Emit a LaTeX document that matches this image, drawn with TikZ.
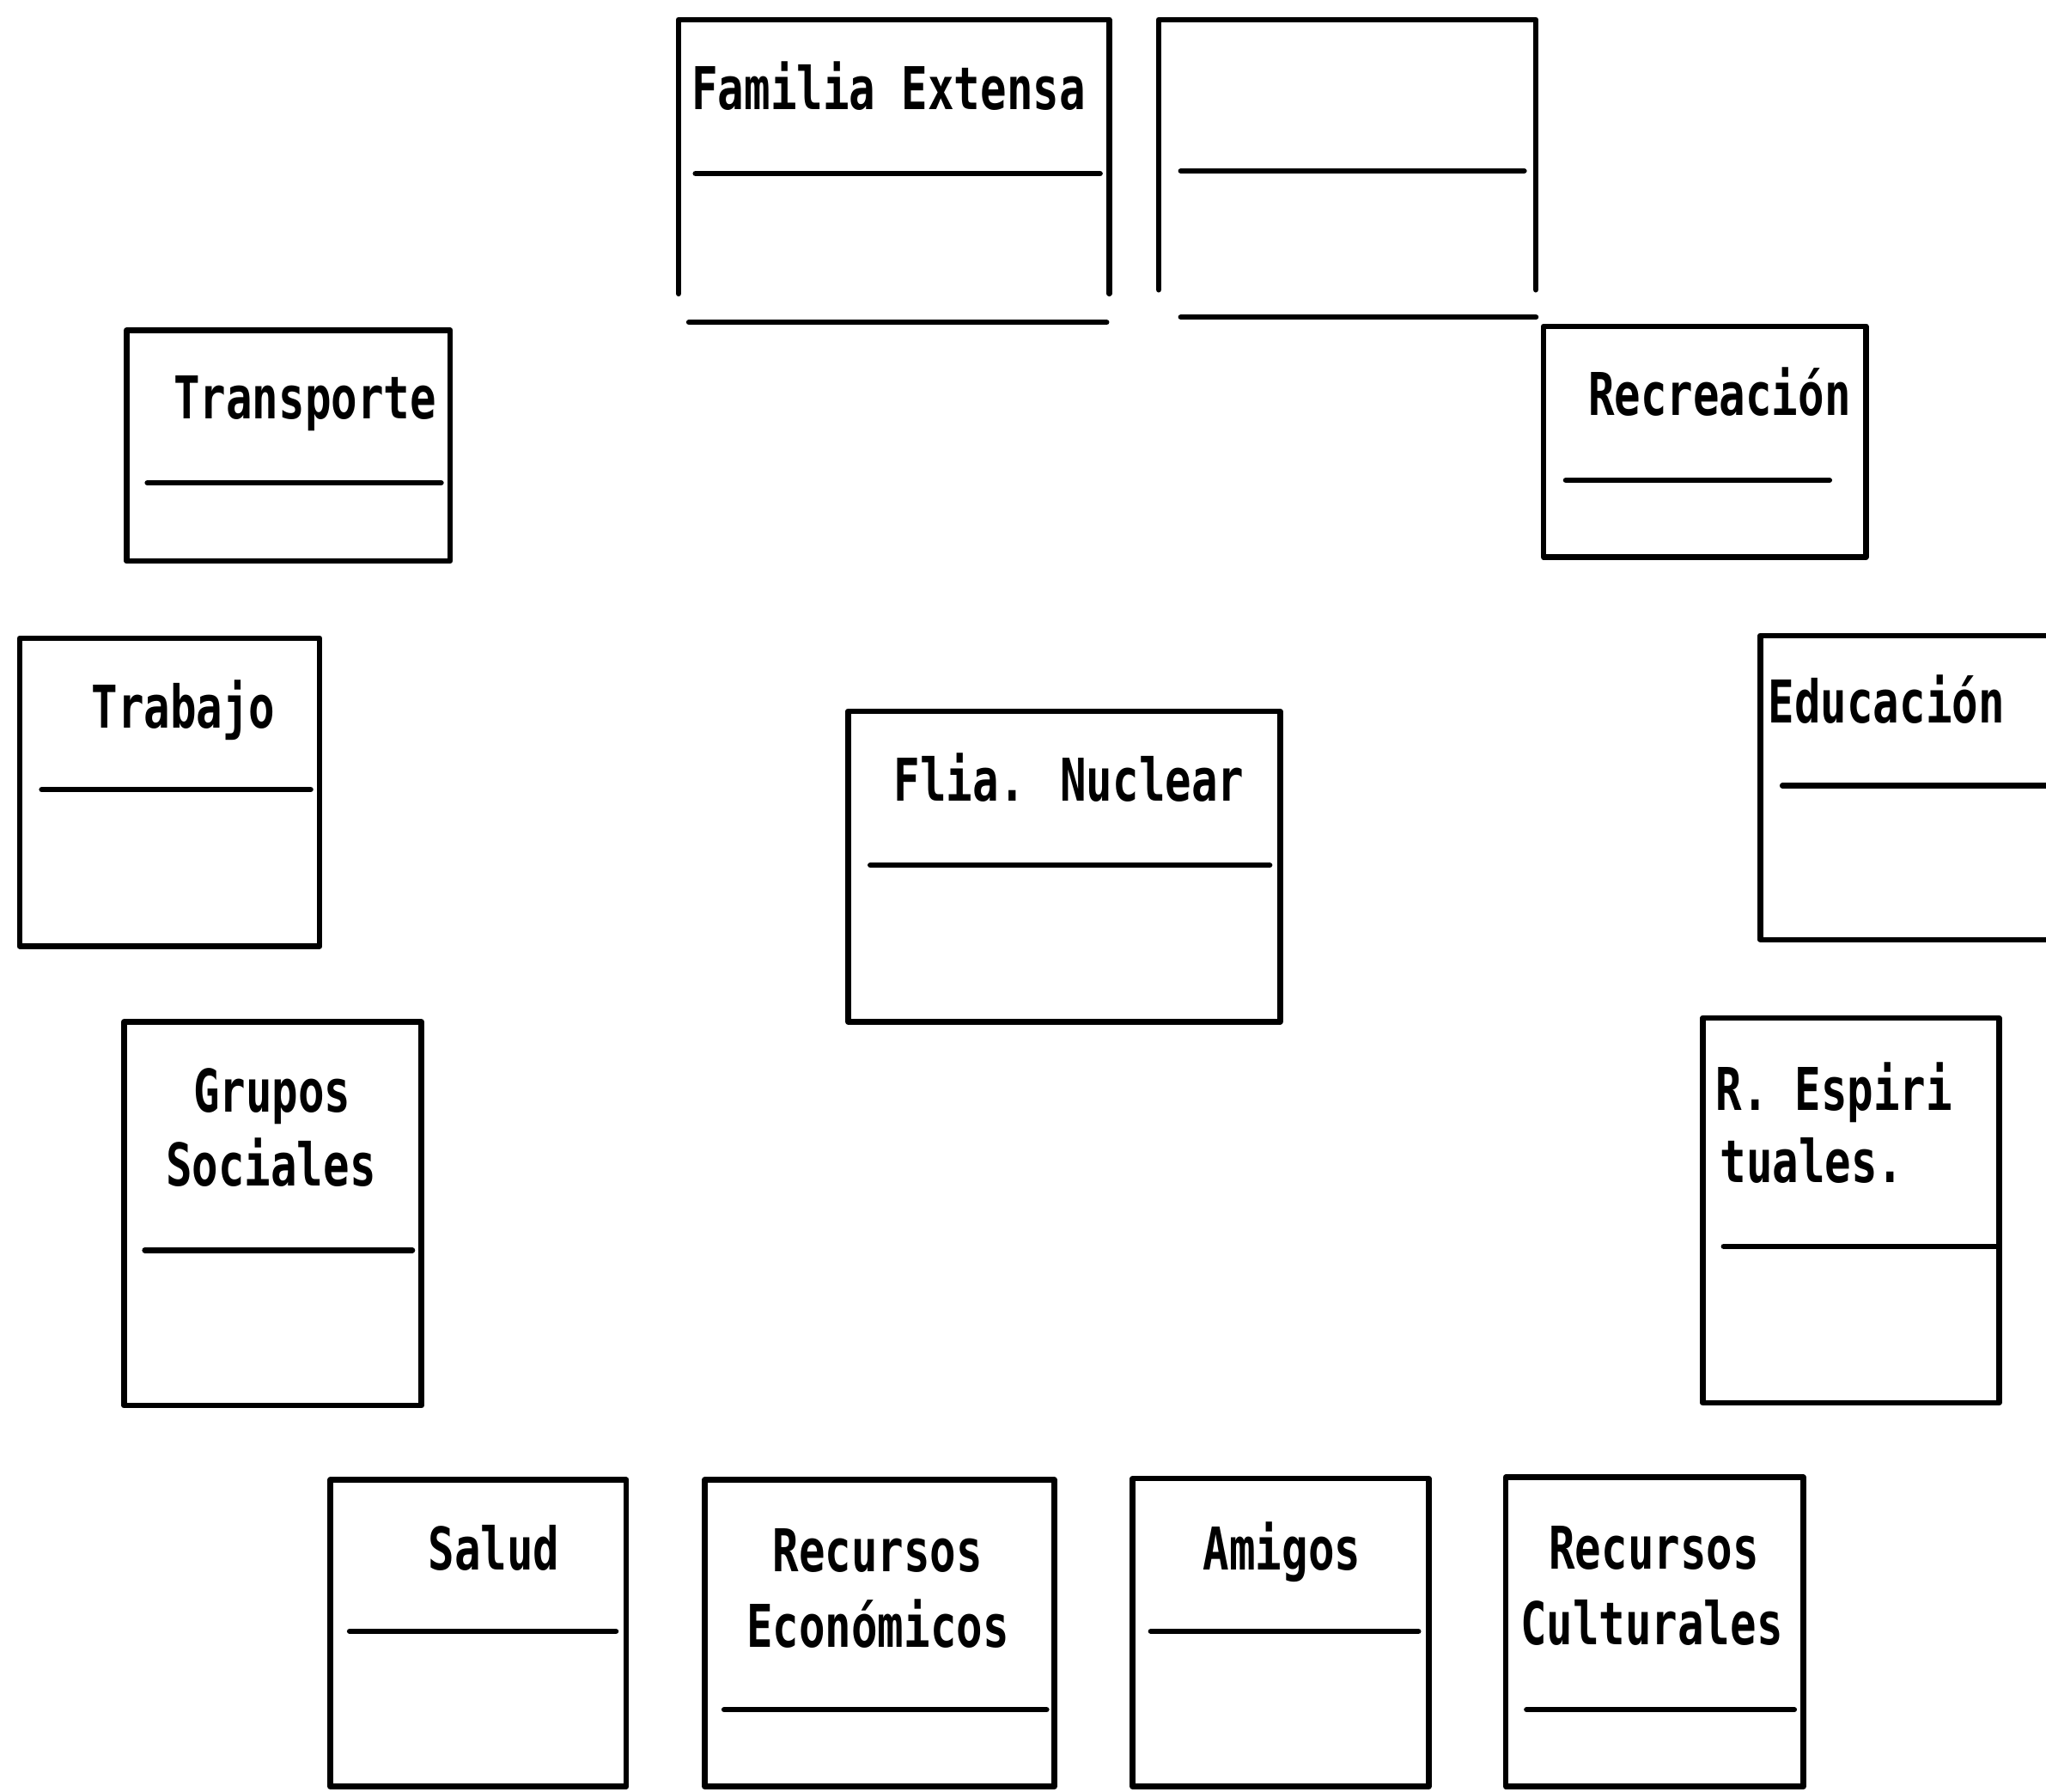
\documentclass[tikz,border=0pt]{standalone}
\usepackage{fontspec}
\newfontfamily\dotfont{DejaVu Sans Mono Bold}
\newcommand\dm[1]{\scalebox{0.74}[1]{#1}}
\tikzset{
  frame/.style={line width=6.5pt, line cap=round, line join=round},
  divider/.style={line width=6.5pt, line cap=round},
  lbl/.style={inner sep=0pt, anchor=base west, font=\dotfont\fontsize{68.6pt}{80pt}\selectfont},
}
\begin{document}
\begin{tikzpicture}[x=1.519pt, y=-1.519pt]
\useasboundingbox (0,0) rectangle (1568,1373);
\clip (0,0) rectangle (1568,1373);

% Familia Extensa (open bottom)
\draw[frame] (520,225) -- (520,15) -- (850,15) -- (850,225);
\draw[divider] (533,133) -- (843,133);
\draw[divider] (528,247) -- (848,247);
\node[lbl] (fe) at (530,84) {\dm{Familia Extensa}};

% empty box (open bottom)
\draw[frame] (888,222) -- (888,15) -- (1177,15) -- (1177,222);
\draw[divider] (905,131) -- (1168,131);
\draw[divider] (905,243) -- (1177,243);

% Transporte
\draw[frame] (97,253) rectangle (345,430);
\draw[divider] (113,370) -- (338,370);
\node[lbl] (tr) at (133,321) {\dm{Transporte}};

% Recreacion
\draw[frame] (1183,250) rectangle (1430,427);
\draw[divider] (1200,368) -- (1402,368);
\node[lbl] (rc) at (1217,318) {\dm{Recreación}};

% Trabajo
\draw[frame] (15,489) rectangle (245,725);
\draw[divider] (32,605) -- (238,605);
\node[lbl] (tb) at (70,558) {\dm{Trabajo}};

% Educacion
\draw[frame] (1349,487) rectangle (1620,720);
\draw[divider] (1366,602) -- (1620,602);
\node[lbl] (ed) at (1355,554) {\dm{Educación}};

% Flia. Nuclear
\draw[frame] (650,545) rectangle (981,783);
\draw[divider] (667,663) -- (973,663);
\node[lbl] (fn) at (685,614) {\dm{Flia. Nuclear}};

% Grupos Sociales
\draw[frame] (95,783) rectangle (323,1077);
\draw[divider] (111,958) -- (316,958);
\node[lbl] (gs1) at (148,852) {\dm{Grupos}};
\node[lbl] (gs2) at (127,909) {\dm{Sociales}};

% R. Espirituales
\draw[frame] (1305,780) rectangle (1532,1075);
\draw[divider] (1321,955) -- (1532,955);
\node[lbl] (re1) at (1315,851) {\dm{R. Espiri}};
\node[lbl] (re2) at (1318,906) {\dm{tuales.}};

% Salud
\draw[frame] (253,1134) rectangle (480,1369);
\draw[divider] (268,1250) -- (472,1250);
\node[lbl] (sa) at (328,1203) {\dm{Salud}};

% Recursos Economicos
\draw[frame] (540,1134) rectangle (808,1369);
\draw[divider] (555,1310) -- (802,1310);
\node[lbl] (rec1) at (592,1204) {\dm{Recursos}};
\node[lbl] (rec2) at (572,1262) {\dm{Económicos}};

% Amigos
\draw[frame] (868,1133) rectangle (1095,1369);
\draw[divider] (882,1250) -- (1087,1250);
\node[lbl] (am) at (922,1203) {\dm{Amigos}};

% Recursos Culturales
\draw[frame] (1154,1132) rectangle (1382,1369);
\draw[divider] (1170,1310) -- (1375,1310);
\node[lbl] (rcu1) at (1187,1202) {\dm{Recursos}};
\node[lbl] (rcu2) at (1165,1260) {\dm{Culturales}};
\end{tikzpicture}
\end{document}
